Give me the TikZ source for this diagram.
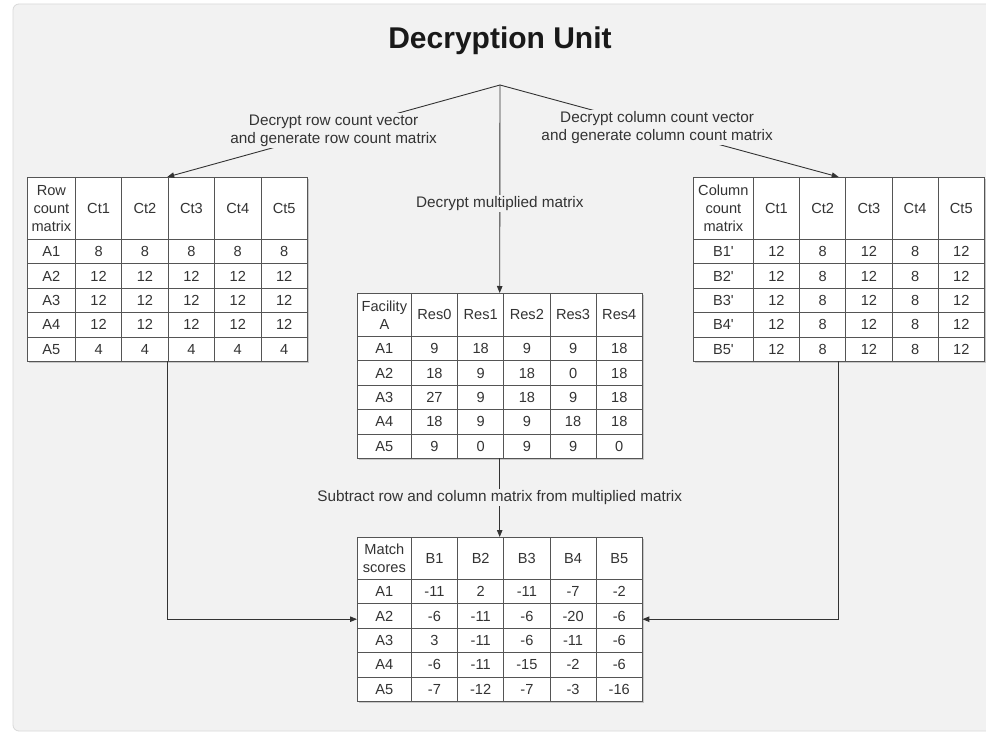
\documentclass[tikz,border=0pt]{standalone}
\usepackage{fontspec}
\setmainfont{Liberation Sans}
\usetikzlibrary{arrows.meta,shadows}

\definecolor{panel}{HTML}{F2F2F2}
\definecolor{panelborder}{HTML}{D9D9D9}
\definecolor{ink}{HTML}{333333}
\definecolor{gridline}{HTML}{555555}

\tikzset{
  cell/.style={draw=gridline, line width=0.75pt, fill=white, inner sep=0pt,
    anchor=north west, align=center, text=ink, font=\fontsize{14.6}{18.3}\selectfont},
  tablebox/.style={fill=white, inner sep=0pt, anchor=north west,
    drop shadow={shadow xshift=1.5pt, shadow yshift=-1.5pt, opacity=0.3, fill=black!60}},
  flow/.style={draw=ink, line width=0.9pt, -{Triangle[length=7pt,width=5.5pt]}},
  steplabel/.style={fill=panel, inner sep=1.5pt, align=center, text=ink,
    font=\fontsize{15.3}{18.3}\selectfont},
}

% #1 name, #2 left, #3 top, #4 first column width, #5 column width,
% #6 header height, #7 row height, #8 rows (header first)
\newcommand\datatable[8]{%
  \pgfmathsetmacro\tblW{#4+5*#5}%
  \pgfmathsetmacro\tblH{#6+5*#7}%
  \node[tablebox, minimum width=\tblW pt, minimum height=\tblH pt] (#1) at (#2,#3) {};
  \foreach [count=\i] \rowcells in {#8} {
    \foreach [count=\j] \cellval in \rowcells {
      \pgfmathsetmacro\cellX{#2 + (\j>1)*(#4 + (\j-2)*#5)}
      \pgfmathsetmacro\cellW{(\j==1)*#4 + (\j>1)*#5}
      \pgfmathsetmacro\cellY{#3 + (\i>1)*(#6 + (\i-2)*#7)}
      \pgfmathsetmacro\cellH{(\i==1)*#6 + (\i>1)*#7}
      \node[cell, minimum width=\cellW pt, minimum height=\cellH pt]
        (#1-\i-\j) at (\cellX,\cellY) {\cellval};
    }
  }
}

\newcommand\pr{\textquotesingle}

\begin{document}
\begin{tikzpicture}[x=1pt, y=-1pt]
  \useasboundingbox (0,0) rectangle (986,733);
  \fill[white] (0,0) rectangle (986,733);
  \draw[panelborder, line width=0.8pt, fill=panel, rounded corners=6pt] (13,4) rectangle (1000,731);

  \node[font=\bfseries\fontsize{30}{35}\selectfont, text=black!90, anchor=base] (title) at (500,49) {Decryption Unit};

  \coordinate (hub) at (500,85);

  \datatable{rowcount}{27}{177}{48}{46.4}{62}{24.4}{
    {Row\\count\\matrix,Ct1,Ct2,Ct3,Ct4,Ct5},
    {A1,8,8,8,8,8},
    {A2,12,12,12,12,12},
    {A3,12,12,12,12,12},
    {A4,12,12,12,12,12},
    {A5,4,4,4,4,4}}

  \datatable{colcount}{693}{177}{60}{46.2}{62}{24.4}{
    {Column\\count\\matrix,Ct1,Ct2,Ct3,Ct4,Ct5},
    {B1\pr,12,8,12,8,12},
    {B2\pr,12,8,12,8,12},
    {B3\pr,12,8,12,8,12},
    {B4\pr,12,8,12,8,12},
    {B5\pr,12,8,12,8,12}}

  \datatable{facility}{357}{293}{54}{46.2}{43}{24.4}{
    {Facility\\A,Res0,Res1,Res2,Res3,Res4},
    {A1,9,18,9,9,18},
    {A2,18,9,18,0,18},
    {A3,27,9,18,9,18},
    {A4,18,9,9,18,18},
    {A5,9,0,9,9,0}}

  \datatable{match}{357}{537}{54}{46.2}{42}{24.4}{
    {Match\\scores,B1,B2,B3,B4,B5},
    {A1,-11,2,-11,-7,-2},
    {A2,-6,-11,-6,-20,-6},
    {A3,3,-11,-6,-11,-6},
    {A4,-6,-11,-15,-2,-6},
    {A5,-7,-12,-7,-3,-16}}

  \draw[flow] (hub) -- node[steplabel, pos=0.5]
    {Decrypt row count vector\\and generate row count matrix} (rowcount.north);
  \draw[flow] (hub) -- node[steplabel, pos=0.464]
    {Decrypt column count vector\\and generate column count matrix} (colcount.north);
  \draw[flow] (hub) -- node[steplabel, pos=0.57] {Decrypt multiplied matrix} (facility.north);
  \draw[flow] (facility.south) -- node[steplabel]
    {Subtract row and column matrix from multiplied matrix} (match.north);
  \draw[flow] (rowcount.south) |- (match.west);
  \draw[flow] (colcount.south) |- (match.east);
\end{tikzpicture}
\end{document}
